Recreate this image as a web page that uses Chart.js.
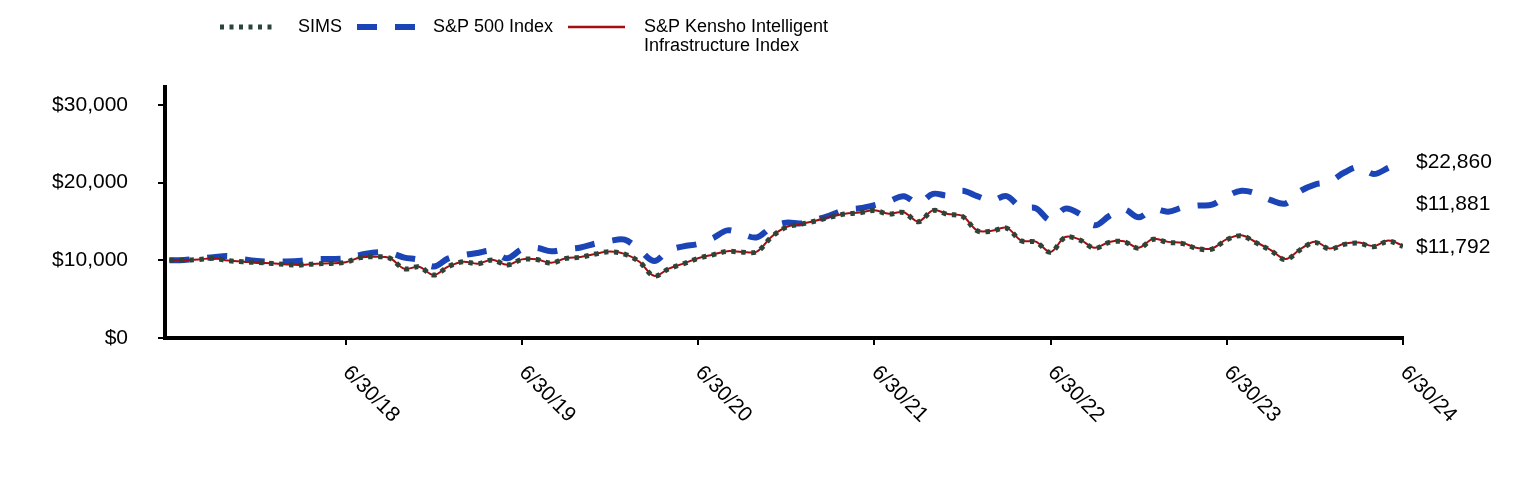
<!DOCTYPE html>
<html>
<head>
<meta charset="utf-8">
<script src="https://cdn.jsdelivr.net/npm/chart.js@4.4.1/dist/chart.umd.min.js"></script>
<style>
html,body{margin:0;padding:0;background:#fff;}
#wrap{width:1524px;height:480px;position:relative;}
</style>
</head>
<body>
<div id="wrap"><canvas id="c" width="1524" height="480"></canvas></div>
<script>
// ---- data (monthly, month-end values of a $10,000 investment) ----
const months = ['6/17','7/17','8/17','9/17','10/17','11/17','12/17','1/18','2/18','3/18','4/18','5/18',
  '6/18','7/18','8/18','9/18','10/18','11/18','12/18','1/19','2/19','3/19','4/19','5/19',
  '6/19','7/19','8/19','9/19','10/19','11/19','12/19','1/20','2/20','3/20','4/20','5/20',
  '6/20','7/20','8/20','9/20','10/20','11/20','12/20','1/21','2/21','3/21','4/21','5/21',
  '6/21','7/21','8/21','9/21','10/21','11/21','12/21','1/22','2/22','3/22','4/22','5/22',
  '6/22','7/22','8/22','9/22','10/22','11/22','12/22','1/23','2/23','3/23','4/23','5/23',
  '6/23','7/23','8/23','9/23','10/23','11/23','12/23','1/24','2/24','3/24','4/24','5/24','6/24'];

const seriesNames = ['SIMS', 'S&P 500 Index', 'S&P Kensho Intelligent Infrastructure Index'];
const legendLines = [['SIMS'], ['S&P 500 Index'], ['S&P Kensho Intelligent', 'Infrastructure Index']];

const sims = [10000,10000,10100,10250,9950,9800,9720,9600,9450,9400,
  9550,9600,9750,10350,10450,10280,8900,9150,8100,9200,
  9800,9550,10050,9400,10100,10100,9650,10250,10400,10800,
  11100,10800,9800,7980,8900,9550,10250,10700,11150,11050,
  11100,13000,14250,14650,15050,15550,15950,16100,16400,15950,
  16150,14950,16400,15900,15650,13800,13750,14150,12500,12350,
  11030,12950,12600,11550,12300,12400,11550,12700,12300,12150,
  11500,11450,12650,13150,12250,11250,10100,11350,12300,11450,
  12050,12200,11750,12450,11792];

const sp500 = [10000,10050,10200,10400,10550,10150,9900,9850,9850,9950,
  10150,10170,10250,10700,11000,10950,10350,10050,9200,10250,
  10650,10950,11200,10250,11400,11600,11150,11450,11650,12150,
  12500,12650,11350,9900,11250,11800,12100,12850,13850,13350,
  12950,14250,14850,14750,15200,15800,16500,16700,17100,17600,
  18250,17350,18550,18350,18950,18250,17700,18250,16800,16700,
  15150,16650,15950,14500,15700,16550,15550,16550,16250,16800,
  17050,17150,18250,18950,18600,17750,17300,18900,19750,20100,
  21300,22000,21100,21900,22860];

const kensho = [10000,10010,10110,10260,9960,9810,9730,9610,9460,9410,
  9560,9610,9760,10360,10460,10290,8910,9160,8110,9210,
  9820,9570,10070,9420,10120,10120,9670,10270,10420,10820,
  11120,10820,9820,8000,8920,9570,10270,10720,11170,11070,
  11120,13030,14280,14680,15090,15590,15990,16140,16440,15990,
  16190,14990,16450,15950,15700,13850,13800,14200,12550,12400,
  11080,13000,12660,11610,12360,12460,11610,12770,12370,12220,
  11570,11520,12720,13230,12320,11320,10170,11420,12380,11530,
  12130,12280,11830,12540,11881];

const yTickValues = [0, 10000, 20000, 30000];
const xTickIndex = [12, 24, 36, 48, 60, 72, 84];
const xTickLabels = ['6/30/18', '6/30/19', '6/30/20', '6/30/21', '6/30/22', '6/30/23', '6/30/24'];
const endLabels = ['$11,792', '$22,860', '$11,881'];

// ---- styles ----
const FONT = 'Arial, "Liberation Sans", Helvetica, sans-serif';
const C_SIMS = '#2b4538';
const C_SP = '#1b44b6';
const C_KEN = '#a30e12';
const endOffsets = [1, 2, -41];

const toXY = arr => arr.map((v, i) => ({ x: i, y: v }));

const annot = {
  id: 'annot',
  afterDraw(chart) {
    const { ctx, scales: { x, y } } = chart;
    ctx.save();
    ctx.fillStyle = '#000';
    // rotated x labels
    ctx.font = '21px ' + FONT;
    ctx.textAlign = 'left';
    ctx.textBaseline = 'top';
    x.ticks.forEach((t, i) => {
      const px = x.getPixelForValue(t.value);
      ctx.save();
      ctx.translate(px + 8, 362);
      ctx.rotate(Math.PI / 4);
      ctx.fillText(xTickLabels[i], 0, 0);
      ctx.restore();
    });
    // end labels
    ctx.textBaseline = 'middle';
    chart.data.datasets.forEach((ds, i) => {
      const last = ds.data[ds.data.length - 1];
      const py = y.getPixelForValue(last.y) + endOffsets[i];
      ctx.fillText(endLabels[i], x.right + 13, py);
    });
    // legend
    const items = [
      { ds: 0, x0: 220, x1: 275, tx: 298, lw: 5, dash: [4, 5.5] },
      { ds: 1, x0: 357, x1: 415, tx: 433, lw: 6, dash: [20, 18] },
      { ds: 2, x0: 568, x1: 625, tx: 644, lw: 2.5, dash: [] }
    ];
    const ly = 27;
    ctx.font = '18px ' + FONT;
    items.forEach(it => {
      const ds = chart.data.datasets[it.ds];
      ctx.save();
      ctx.strokeStyle = ds.borderColor;
      ctx.lineWidth = it.lw;
      ctx.lineCap = 'butt';
      ctx.setLineDash(it.dash);
      ctx.beginPath();
      ctx.moveTo(it.x0, ly);
      ctx.lineTo(it.x1, ly);
      ctx.stroke();
      ctx.restore();
      ctx.fillStyle = '#000';
      ctx.textBaseline = 'middle';
      legendLines[it.ds].forEach((line, k) => ctx.fillText(line, it.tx, ly + k * 19));
    });
    ctx.restore();
  }
};

new Chart(document.getElementById('c'), {
  type: 'line',
  data: {
    datasets: [
      { label: seriesNames[0], data: toXY(sims), borderColor: C_SIMS, borderWidth: 5, borderDash: [4.5, 5.5],
        pointRadius: 0, tension: 0.35, order: 0, fill: false },
      { label: seriesNames[1], data: toXY(sp500), borderColor: C_SP, borderWidth: 6, borderDash: [20, 18],
        pointRadius: 0, tension: 0.35, order: 2, fill: false },
      { label: seriesNames[2], data: toXY(kensho), borderColor: C_KEN, borderWidth: 2,
        pointRadius: 0, tension: 0.35, order: 1, fill: false }
    ]
  },
  options: {
    responsive: false,
    devicePixelRatio: 1,
    animation: false,
    layout: { padding: { left: 0, right: 121, top: 87, bottom: 0 } },
    plugins: { legend: { display: false }, tooltip: { enabled: false } },
    scales: {
      x: {
        type: 'linear', min: -0.3, max: 84,
        afterBuildTicks: s => { s.ticks = xTickIndex.map(v => ({ value: v })); },
        afterFit: s => { s.height = 142; },
        grid: { display: true, drawOnChartArea: false, drawTicks: true, tickLength: 7, color: '#000', lineWidth: 2 },
        border: { display: true, color: '#000', width: 4 },
        ticks: { display: false }
      },
      y: {
        min: 0, max: 32300,
        afterBuildTicks: s => { s.ticks = yTickValues.map(v => ({ value: v })); },
        afterFit: s => { s.width = 165; },
        grid: { display: true, drawOnChartArea: false, drawTicks: true, tickLength: 7, color: '#000', lineWidth: 2 },
        border: { display: true, color: '#000', width: 4 },
        ticks: { color: '#000', padding: 30, font: { family: FONT, size: 21 },
          callback: v => '$' + Number(v).toLocaleString('en-US') }
      }
    }
  },
  plugins: [annot]
});
</script>
</body>
</html>
